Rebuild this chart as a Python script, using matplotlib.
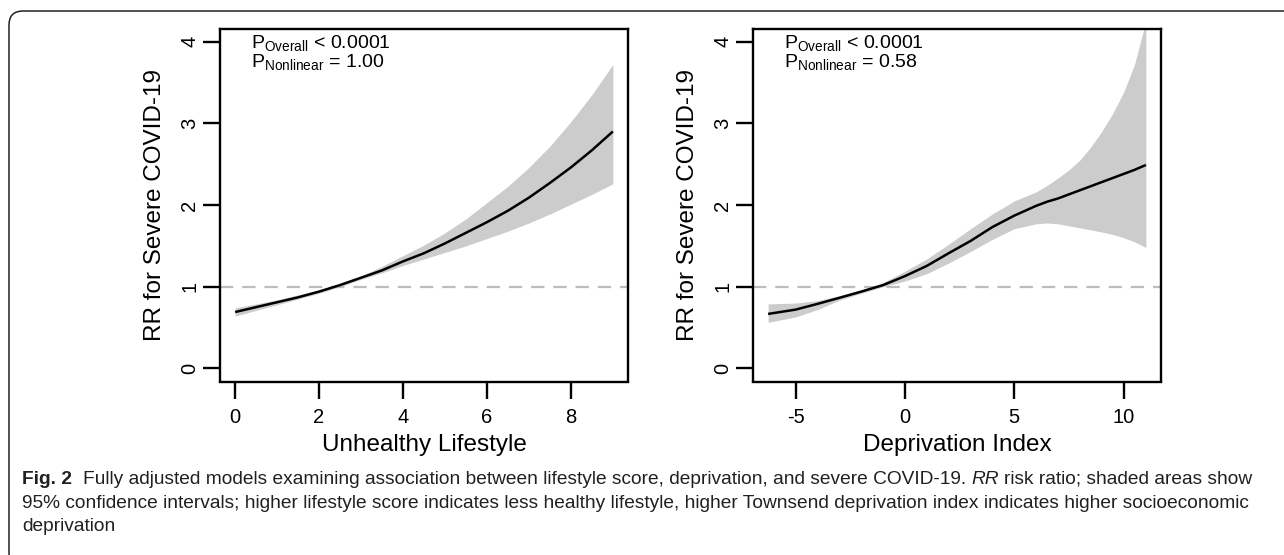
import matplotlib
matplotlib.use("Agg")
import matplotlib.pyplot as plt
from matplotlib.patches import FancyBboxPatch
from matplotlib.transforms import IdentityTransform

plt.rcParams['font.family'] = ['Liberation Sans', 'DejaVu Sans']
plt.rcParams['mathtext.fontset'] = 'custom'
plt.rcParams['mathtext.rm'] = 'Liberation Sans'
plt.rcParams['mathtext.it'] = 'Liberation Sans:italic'
plt.rcParams['mathtext.default'] = 'regular'

# ---------------- data ----------------
lifestyle_x = [0, 0.5, 1, 1.5, 2, 2.5, 3, 3.5, 4, 4.5, 5, 5.5, 6, 6.5, 7, 7.5, 8, 8.5, 9]
lifestyle_rr = [0.69, 0.75, 0.81, 0.87, 0.94, 1.02, 1.11, 1.20, 1.31, 1.41, 1.53,
                1.66, 1.79, 1.93, 2.09, 2.27, 2.46, 2.67, 2.90]
lifestyle_lo = [0.64, 0.71, 0.78, 0.85, 0.92, 1.00, 1.09, 1.17, 1.26, 1.34, 1.42,
                1.50, 1.59, 1.68, 1.78, 1.89, 2.01, 2.13, 2.26]
lifestyle_hi = [0.74, 0.79, 0.84, 0.90, 0.96, 1.04, 1.13, 1.25, 1.38, 1.51, 1.66,
                1.83, 2.03, 2.23, 2.46, 2.72, 3.02, 3.35, 3.72]

depriv_x = [-6.26, -5, -4, -3, -2, -1, 0, 1, 2, 3, 4, 5, 6, 6.5, 7, 7.5, 8, 8.5,
            9, 9.5, 10, 10.5, 11.02]
depriv_rr = [0.667, 0.72, 0.79, 0.864, 0.94, 1.02, 1.13, 1.255, 1.41, 1.56, 1.73,
             1.87, 1.99, 2.04, 2.08, 2.13, 2.18, 2.23, 2.28, 2.33, 2.38, 2.43, 2.49]
depriv_lo = [0.564, 0.63, 0.72, 0.835, 0.92, 1.00, 1.07, 1.16, 1.29, 1.43, 1.58,
             1.71, 1.77, 1.78, 1.77, 1.745, 1.72, 1.695, 1.67, 1.64, 1.60, 1.55, 1.48]
depriv_hi = [0.79, 0.80, 0.83, 0.89, 0.96, 1.05, 1.19, 1.34, 1.52, 1.71, 1.89,
             2.05, 2.16, 2.24, 2.33, 2.43, 2.55, 2.71, 2.90, 3.12, 3.38, 3.72, 4.25]

y_ticks = [0, 1, 2, 3, 4]
lifestyle_xticks = [0, 2, 4, 6, 8]
depriv_xticks = [-5, 0, 5, 10]

ylabel = "RR for Severe COVID-19"
lifestyle_label = "Unhealthy Lifestyle"
depriv_label = "Deprivation Index"
lifestyle_p = ("< 0.0001", "= 1.00")
depriv_p = ("< 0.0001", "= 0.58")

caption_line1 = [("Fig. 2", dict(weight='bold')), 2,
                 ("Fully adjusted models examining association between lifestyle score, "
                  "deprivation, and severe COVID-19.", {}), 1,
                 ("RR", dict(style='italic')), 1,
                 ("risk ratio; shaded areas show", {})]
caption_line2 = ("95% confidence intervals; higher lifestyle score indicates less healthy "
                 "lifestyle, higher Townsend deprivation index indicates higher socioeconomic")
caption_line3 = "deprivation"

# ---------------- figure ----------------
W, H = 1284, 555
fig = plt.figure(figsize=(W / 100, H / 100), dpi=100)

frame = FancyBboxPatch((9, -12), 1320, H - 11 + 12, boxstyle="round,pad=0,rounding_size=14",
                       transform=IdentityTransform(), fill=False, ec='#222222', lw=1.1)
fig.add_artist(frame)


def px_axes(l, t, r, b):
    return fig.add_axes([l / W, 1 - b / H, (r - l) / W, (b - t) / H])


ax1 = px_axes(220, 28.5, 628, 381.5)
ax2 = px_axes(753, 28.5, 1161, 381.5)


def panel(ax, x, rr, lo, hi, xticks, xlabel, pvals):
    ax.fill_between(x, lo, hi, color='#cccccc', lw=0, zorder=1)
    ax.axhline(1, color='#bdbdbd', lw=1.6, ls=(0, (6, 4)), zorder=2)
    ax.plot(x, rr, color='black', lw=1.8, zorder=3, solid_capstyle='butt')
    r = max(x) - min(x)
    ax.set_xlim(min(x) - 0.04 * r, max(x) + 0.04 * r)
    ax.set_ylim(-0.16, 4.16)
    ax.set_xticks(xticks)
    ax.set_xticklabels([str(v) for v in xticks])
    ax.set_yticks(y_ticks)
    ax.set_yticklabels([str(v) for v in y_ticks], rotation=90, va='center')
    ax.tick_params(axis='both', direction='out', length=12, width=1.7,
                   labelsize=14.5, colors='black')
    ax.tick_params(axis='x', pad=7)
    ax.tick_params(axis='y', pad=3)
    for s in ax.spines.values():
        s.set_linewidth(1.7)
        s.set_color('black')
    ax.set_ylabel(ylabel, fontsize=17.5, rotation=90, va='center', ha='center')
    ax.yaxis.set_label_coords((155 - 220) / 408, 0.5)
    ax.set_xlabel(xlabel, fontsize=17.5, va='center', ha='center')
    ax.xaxis.set_label_coords(0.5, (381.5 - 445) / 353)
    ax.text(0.076, 0.891,
            r'P$_{Overall}$' + ' ' + pvals[0] + '\n' + r'P$_{Nonlinear}$' + ' ' + pvals[1],
            transform=ax.transAxes, fontsize=14, va='baseline', ha='left',
            linespacing=0.92)


panel(ax1, lifestyle_x, lifestyle_rr, lifestyle_lo, lifestyle_hi, lifestyle_xticks,
      lifestyle_label, lifestyle_p)
panel(ax2, depriv_x, depriv_rr, depriv_lo, depriv_hi, depriv_xticks,
      depriv_label, depriv_p)

# ---------------- caption ----------------
fig.canvas.draw()
rend = fig.canvas.get_renderer()
cap_font = ['Liberation Sans Narrow', 'Liberation Sans']
cap_col = '#231f20'


def tw(t):
    return t.get_window_extent(rend).width


probe = fig.text(0, 0, caption_line2, fontsize=10, family=cap_font)
w10 = tw(probe)
probe.remove()
cs = 10 * (1236 / w10)

p1 = fig.text(0, 0, "a a", fontsize=cs, family=cap_font)
p2 = fig.text(0, 0, "aa", fontsize=cs, family=cap_font)
space_w = tw(p1) - tw(p2)
p1.remove(); p2.remove()

x0 = 22


def draw_line(pieces, yb):
    x = x0
    for pc in pieces:
        if isinstance(pc, int):
            x += pc * space_w
            continue
        txt, kw = pc
        t = fig.text(x / W, 1 - yb / H, txt, fontsize=cs, family=cap_font,
                     va='baseline', ha='left', color=cap_col, **kw)
        x += tw(t)


draw_line(caption_line1, 484)
draw_line([(caption_line2, {})], 508)
draw_line([(caption_line3, {})], 531)

fig.savefig("out.png", dpi=100)
